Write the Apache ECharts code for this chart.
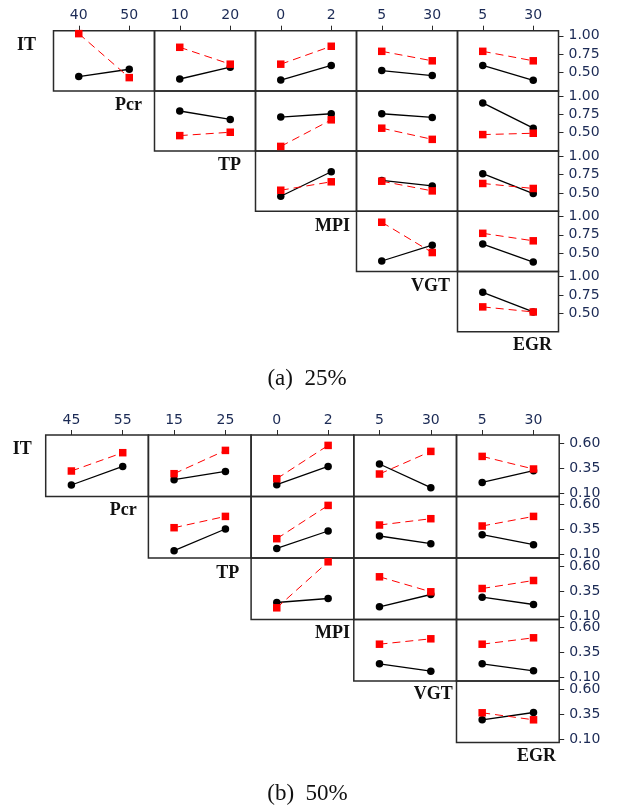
<!DOCTYPE html>
<html>
<head>
<meta charset="utf-8">
<script src="https://cdn.jsdelivr.net/npm/echarts@6/dist/echarts.min.js"></script>
<style>
html,body{margin:0;padding:0;background:#fff;}
#chart{width:617px;height:810px;}
</style>
</head>
<body>
<div id="chart"></div>
<script>
// ---------- data ----------
const factors = ['IT', 'Pcr', 'TP', 'MPI', 'VGT', 'EGR'];
const colTicksA = [['40', '50'], ['10', '20'], ['0', '2'], ['5', '30'], ['5', '30']];
const colTicksB = [['45', '55'], ['15', '25'], ['0', '2'], ['5', '30'], ['5', '30']];
const yTicksA = [0.50, 0.75, 1.00];
const yTicksB = [0.10, 0.35, 0.60];
const captionA = '(a)  25%';
const captionB = '(b)  50%';

// panel (a) 25% : black = low level (solid, circle), red = high level (dashed, square)
// each row lists cells from its own column to the last column
const a_IT_black  = [[0.445, 0.545], [0.412, 0.573], [0.398, 0.596], [0.527, 0.459], [0.596, 0.394]];
const a_IT_red    = [[1.030, 0.431], [0.844, 0.614], [0.614, 0.858], [0.789, 0.660], [0.789, 0.660]];
const a_Pcr_black = [[0.796, 0.682], [0.713, 0.759], [0.759, 0.709], [0.906, 0.562]];
const a_Pcr_red   = [[0.461, 0.507], [0.314, 0.676], [0.562, 0.410], [0.475, 0.493]];
const a_TP_black  = [[0.455, 0.789], [0.670, 0.596], [0.762, 0.492]];
const a_TP_red    = [[0.537, 0.652], [0.660, 0.528], [0.629, 0.561]];
const a_MPI_black = [[0.393, 0.609], [0.623, 0.379]];
const a_MPI_red   = [[0.921, 0.508], [0.770, 0.668]];
const a_VGT_black = [[0.786, 0.519]];
const a_VGT_red   = [[0.588, 0.519]];

// panel (b) 50%
const b_IT_black  = [[0.180, 0.366], [0.233, 0.316], [0.183, 0.366], [0.390, 0.153], [0.206, 0.323]];
const b_IT_red    = [[0.320, 0.503], [0.293, 0.526], [0.243, 0.576], [0.290, 0.516], [0.466, 0.340]];
const b_Pcr_black = [[0.138, 0.355], [0.161, 0.335], [0.285, 0.208], [0.298, 0.198]];
const b_Pcr_red   = [[0.368, 0.481], [0.258, 0.591], [0.395, 0.458], [0.385, 0.481]];
const b_TP_black  = [[0.235, 0.275], [0.192, 0.315], [0.288, 0.215]];
const b_TP_red    = [[0.182, 0.642], [0.492, 0.342], [0.375, 0.455]];
const b_MPI_black = [[0.237, 0.163], [0.237, 0.167]];
const b_MPI_red   = [[0.433, 0.487], [0.433, 0.497]];
const b_VGT_black = [[0.292, 0.365]];
const b_VGT_red   = [[0.362, 0.292]];

const blackA = [a_IT_black, a_Pcr_black, a_TP_black, a_MPI_black, a_VGT_black];
const redA   = [a_IT_red, a_Pcr_red, a_TP_red, a_MPI_red, a_VGT_red];
const blackB = [b_IT_black, b_Pcr_black, b_TP_black, b_MPI_black, b_VGT_black];
const redB   = [b_IT_red, b_Pcr_red, b_TP_red, b_MPI_red, b_VGT_red];

// ---------- layout ----------
const panels = [
  { left: 53.5, top: 30.7, w: 101, h: 60.2, ymin: 0.25, ymax: 1.07, yTicks: yTicksA, colTicks: colTicksA,
    black: blackA, red: redA,
    labelPos: [[36, 45], [142, 105.5], [241, 165], [350, 226], [450, 286], [552, 345]],
    caption: captionA, capPos: [307, 379] },
  { left: 45.7, top: 435, w: 102.7, h: 61.5, ymin: 0.065, ymax: 0.68, yTicks: yTicksB, colTicks: colTicksB,
    black: blackB, red: redB,
    labelPos: [[31.7, 449], [136.7, 510], [239.3, 573.3], [350, 633.3], [452.7, 694], [556, 756]],
    caption: captionB, capPos: [307.5, 794] }
];

const grids = [], xAxes = [], yAxes = [], series = [], graphics = [];
const axisColor = '#1b2a55';
const frameColor = '#2a2a2a';
let gi = 0;

panels.forEach(p => {
  for (let r = 0; r < 5; r++) {
    for (let c = r; c < 5; c++) {
      grids.push({
        left: p.left + c * p.w, top: p.top + r * p.h, width: p.w, height: p.h,
        show: true, borderColor: frameColor, borderWidth: 1.5, backgroundColor: 'transparent',
        containLabel: false
      });
      xAxes.push({
        gridIndex: gi, type: 'category', data: p.colTicks[c], boundaryGap: true, position: 'top',
        axisLine: { show: false },
        axisTick: { show: r === 0, alignWithLabel: true, length: 5, lineStyle: { color: frameColor, width: 1 } },
        axisLabel: { show: r === 0, margin: 8, color: axisColor, fontFamily: 'DejaVu Sans', fontSize: 14 },
        splitLine: { show: false }
      });
      yAxes.push({
        gridIndex: gi, type: 'value', min: p.ymin, max: p.ymax, position: 'right',
        axisLine: { show: false },
        splitLine: { show: false },
        axisTick: { show: c === 4, length: 5, customValues: p.yTicks, lineStyle: { color: frameColor, width: 1 } },
        axisLabel: { show: c === 4, margin: 10, customValues: p.yTicks, color: axisColor,
          fontFamily: 'DejaVu Sans', fontSize: 14, formatter: v => Number(v).toFixed(2) }
      });
      const k = c - r;
      series.push({
        type: 'line', xAxisIndex: gi, yAxisIndex: gi, data: p.black[r][k],
        symbol: 'circle', symbolSize: 7.5, itemStyle: { color: '#000' },
        lineStyle: { color: '#000', width: 1.3 }, animation: false, z: 2
      });
      series.push({
        type: 'line', xAxisIndex: gi, yAxisIndex: gi, data: p.red[r][k],
        symbol: 'rect', symbolSize: 7.5, itemStyle: { color: '#ff0000' },
        lineStyle: { color: '#ff0000', width: 1, type: [8, 5] }, animation: false, z: 3
      });
      gi++;
    }
  }
  factors.forEach((f, i) => {
    graphics.push({
      type: 'text', x: p.labelPos[i][0], y: p.labelPos[i][1],
      style: { text: f, textAlign: 'right', textVerticalAlign: 'middle',
        font: 'bold 18px "Liberation Serif"', fill: '#111' }
    });
  });
  graphics.push({
    type: 'text', x: p.capPos[0], y: p.capPos[1],
    style: { text: p.caption, textAlign: 'center', textVerticalAlign: 'middle',
      font: '23px "Liberation Serif"', fill: '#111' }
  });
});

const chart = echarts.init(document.getElementById('chart'), null, { renderer: 'canvas' });
chart.setOption({
  animation: false,
  backgroundColor: '#fff',
  grid: grids, xAxis: xAxes, yAxis: yAxes, series: series, graphic: graphics
});
</script>
</body>
</html>
